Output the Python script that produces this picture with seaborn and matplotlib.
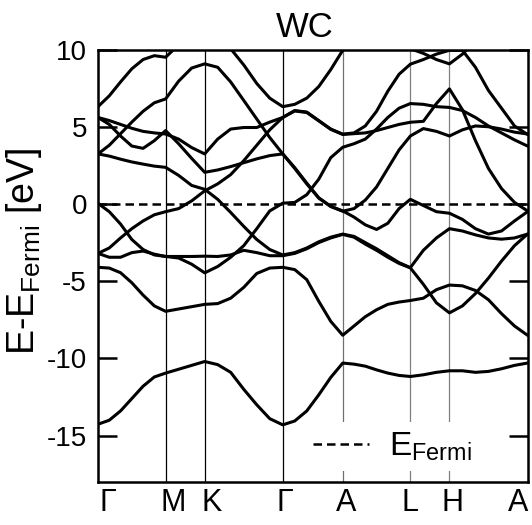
import numpy as np
import pandas as pd
import matplotlib
matplotlib.use("Agg")
import matplotlib.pyplot as plt
import matplotlib.transforms as mtransforms
import seaborn as sns

# ---------------- data ----------------
kpath_labels = ["Γ", "M", "K", "Γ", "A", "L", "H", "A"]
kpath_pos = [0.0, 1.248, 1.969, 3.410, 4.517, 5.765, 6.486, 7.927]

k_grid = [0.0, 0.208, 0.416, 0.624, 0.832, 1.040, 1.248,
          1.488, 1.729, 1.969,
          2.209, 2.449, 2.690, 2.930, 3.170, 3.410,
          3.631, 3.853, 4.074, 4.296, 4.517,
          4.725, 4.933, 5.141, 5.349, 5.557, 5.765,
          6.005, 6.246, 6.486,
          6.726, 6.966, 7.206, 7.447, 7.687, 7.927]

band_1 = [-14.26, -14.0, -13.4, -12.6, -11.8, -11.2, -10.95,
          -10.7, -10.45, -10.2,
          -10.4, -10.9, -12.0, -13.0, -13.9, -14.3,
          -14.05, -13.4, -12.36, -11.23, -10.3,
          -10.37, -10.5, -10.74, -10.95, -11.1, -11.17,
          -11.06, -10.9, -10.8,
          -10.8, -10.9, -10.84, -10.67, -10.45, -10.3]
band_2 = [-4.1, -4.15, -4.45, -5.1, -5.9, -6.6, -6.95,
          -6.8, -6.65, -6.5,
          -6.45, -6.1, -5.4, -4.5, -4.15, -4.1,
          -4.25, -4.9, -6.3, -7.6, -8.5,
          -7.9, -7.3, -6.85, -6.5, -6.35, -6.25,
          -6.1, -5.55, -5.25,
          -5.3, -5.6, -6.2, -7.1, -7.9, -8.5]
band_3 = [-3.2, -3.45, -3.45, -3.15, -3.05, -3.25, -3.4,
          -3.4, -3.4, -3.38,
          -3.4, -3.3, -3.0, -3.15, -3.35, -3.35,
          -3.2, -2.9, -2.5, -2.2, -1.97,
          -2.15, -2.6, -3.0, -3.45, -3.85, -4.14,
          -5.2, -6.4, -7.05,
          -6.6, -5.8, -4.8, -3.7, -2.7, -1.95]
band_4 = [0.04, -0.5, -1.3, -2.3, -2.95, -3.3, -3.4,
          -3.5, -3.9, -4.46,
          -4.05, -3.45, -2.7, -1.6, -0.45, 0.05,
          0.1, 0.6, 1.6, 3.0, 3.67,
          3.9, 4.2, 4.85, 5.6, 6.2, 6.5,
          6.45, 6.3, 6.25,
          6.05, 5.6, 5.05, 4.6, 4.15, 3.75]
band_5 = [3.24, 3.1, 2.9, 2.72, 2.58, 2.45, 2.37,
          1.85, 1.2, 0.95,
          0.3, -0.55, -1.45, -2.3, -2.95, -3.3,
          -3.15, -2.85, -2.45, -2.15, -1.95,
          -2.1, -2.5, -2.9, -3.35, -3.8, -4.12,
          -3.0, -2.2, -1.6,
          -1.75, -2.0, -2.2, -2.28, -2.2, -1.95]
band_6 = [-3.2, -2.85, -2.2, -1.6, -1.1, -0.7, -0.5,
          -0.3, 0.2, 0.85,
          1.3, 1.9, 2.8, 3.8, 4.8, 5.6,
          6.05, 5.95, 5.4, 4.85, 4.52,
          4.6, 5.05, 6.0, 7.3, 8.4, 9.05,
          9.35, 9.7, 9.95,
          9.95, 8.85, 7.35, 6.2, 5.05, 4.5]
band_7 = [5.6, 5.4, 5.15, 4.9, 4.7, 4.6, 4.53,
          4.2, 3.65, 3.24,
          4.2, 4.85, 4.95, 4.95, 5.3, 5.6,
          6.02, 5.92, 5.38, 4.83, 4.5,
          4.55, 4.6, 4.75, 4.95, 5.15, 5.29,
          5.35, 6.5, 7.45,
          6.1, 4.1, 2.3, 1.0, 0.1, -0.45]
band_8 = [5.6, 5.15, 4.4, 3.75, 3.6, 4.1, 4.75,
          3.9, 2.95, 2.05,
          2.2, 2.42, 2.67, 2.92, 3.13, 3.24,
          2.3, 1.3, 0.38, -0.17, -0.47,
          -0.3, 0.25, 1.1, 2.3, 3.5, 4.4,
          4.88, 4.7, 4.4,
          4.8, 5.05, 5.0, 4.85, 4.65, 4.53]
band_9 = [3.24, 3.8, 4.55, 5.3, 6.0, 6.55, 6.8,
          7.95, 8.8, 9.07,
          8.85, 7.9, 6.7, 5.5, 4.3, 3.24,
          2.35, 1.35, 0.4, -0.15, -0.45,
          -0.85, -1.35, -1.65, -1.25, -0.3, 0.3,
          -0.1, -0.5, -0.6,
          -1.0, -1.6, -1.95, -1.75, -1.1, -0.5]
band_10 = [6.3, 7.0, 7.9, 8.75, 9.35, 9.6, 9.5,
           10.3, 10.9, 11.2,
           10.9, 10.05, 9.0, 7.8, 6.85, 6.3,
           6.45, 6.85, 7.6, 8.7, 9.95,
           10.4, 10.7, 10.8, 10.7, 10.4, 10.05,
           9.75, 9.35, 9.07,
           9.7, 10.6, 11.3, 11.8, 12.0, 12.1]

bands = [band_1, band_2, band_3, band_4, band_5,
         band_6, band_7, band_8, band_9, band_10]

y_ticks = [10, 5, 0, -5, -10, -15]
y_limits = (-18, 10)

# -------------- style --------------
sns.set_style("white")
plt.rcParams["font.family"] = ["Liberation Sans", "DejaVu Sans"]
plt.rcParams["mathtext.fontset"] = "custom"
plt.rcParams["mathtext.rm"] = "Liberation Sans"
plt.rcParams["mathtext.it"] = "Liberation Sans:italic"
plt.rcParams["axes.unicode_minus"] = False
plt.rcParams["text.color"] = "black"
plt.rcParams["axes.labelcolor"] = "black"
plt.rcParams["xtick.color"] = "black"
plt.rcParams["ytick.color"] = "black"

df = pd.concat(
    [pd.DataFrame({"k": k_grid, "E": b, "band": i}) for i, b in enumerate(bands)],
    ignore_index=True)

fig = plt.figure(figsize=(5.32, 5.25), dpi=100)
ax = fig.add_axes([98 / 532, 1 - 482 / 525, 429.5 / 532, 432.5 / 525])

# high-symmetry vertical lines
line_colors = [None, "black", "black", "black", "#707070", "#808080", "#808080", None]
for pos, c in zip(kpath_pos, line_colors):
    if c is not None:
        ax.axvline(pos, color=c, lw=0.9, zorder=1)

sns.lineplot(data=df, x="k", y="E", units="band", estimator=None, sort=False,
             color="black", lw=2.2, ax=ax, zorder=2, legend=False)

ax.axhline(0, color="black", lw=1.8, ls=(0, (3.4, 2)), zorder=3,
           label=r"E$_{\mathrm{Fermi}}$")

ax.set_xlim(kpath_pos[0], kpath_pos[-1])
ax.set_ylim(*y_limits)
ax.set_yticks(y_ticks)
ax.set_yticklabels([str(t) for t in y_ticks])
ax.set_xticks(kpath_pos)
ax.set_xticklabels(kpath_labels)

for s in ax.spines.values():
    s.set_visible(True)
    s.set_color("black")
    s.set_linewidth(1.8)

ax.tick_params(axis="y", direction="in", length=14, width=1.8,
               left=True, right=True, labelsize=20, pad=8, colors="black")
ax.tick_params(axis="x", length=0, labelsize=22, pad=4, colors="black")

offsets_px = [10, 8, 7, 2, 3, 0, 3, -9]
for lab, dx in zip(ax.get_xticklabels(), offsets_px):
    lab.set_transform(lab.get_transform() +
                      mtransforms.ScaledTranslation(dx / 100, 0, fig.dpi_scale_trans))

ax.set_xlabel("")
ax.set_ylabel(r"E-E$_{\mathrm{Fermi}}$ [eV]", fontsize=27, color="black")
ax.yaxis.set_label_coords(-0.125, 0.533)

ax.set_title("WC", fontsize=25, x=0.481, pad=9, color="black")

leg = ax.legend(loc="center", bbox_to_anchor=(0.685, 0.082), frameon=True,
                fancybox=False, edgecolor="none", facecolor="white", framealpha=1,
                fontsize=24, handlelength=1.7, handletextpad=0.6, borderpad=0.25)
leg.set_zorder(5)
for t in leg.get_texts():
    t.set_color("black")

fig.savefig("out.png", dpi=100)
